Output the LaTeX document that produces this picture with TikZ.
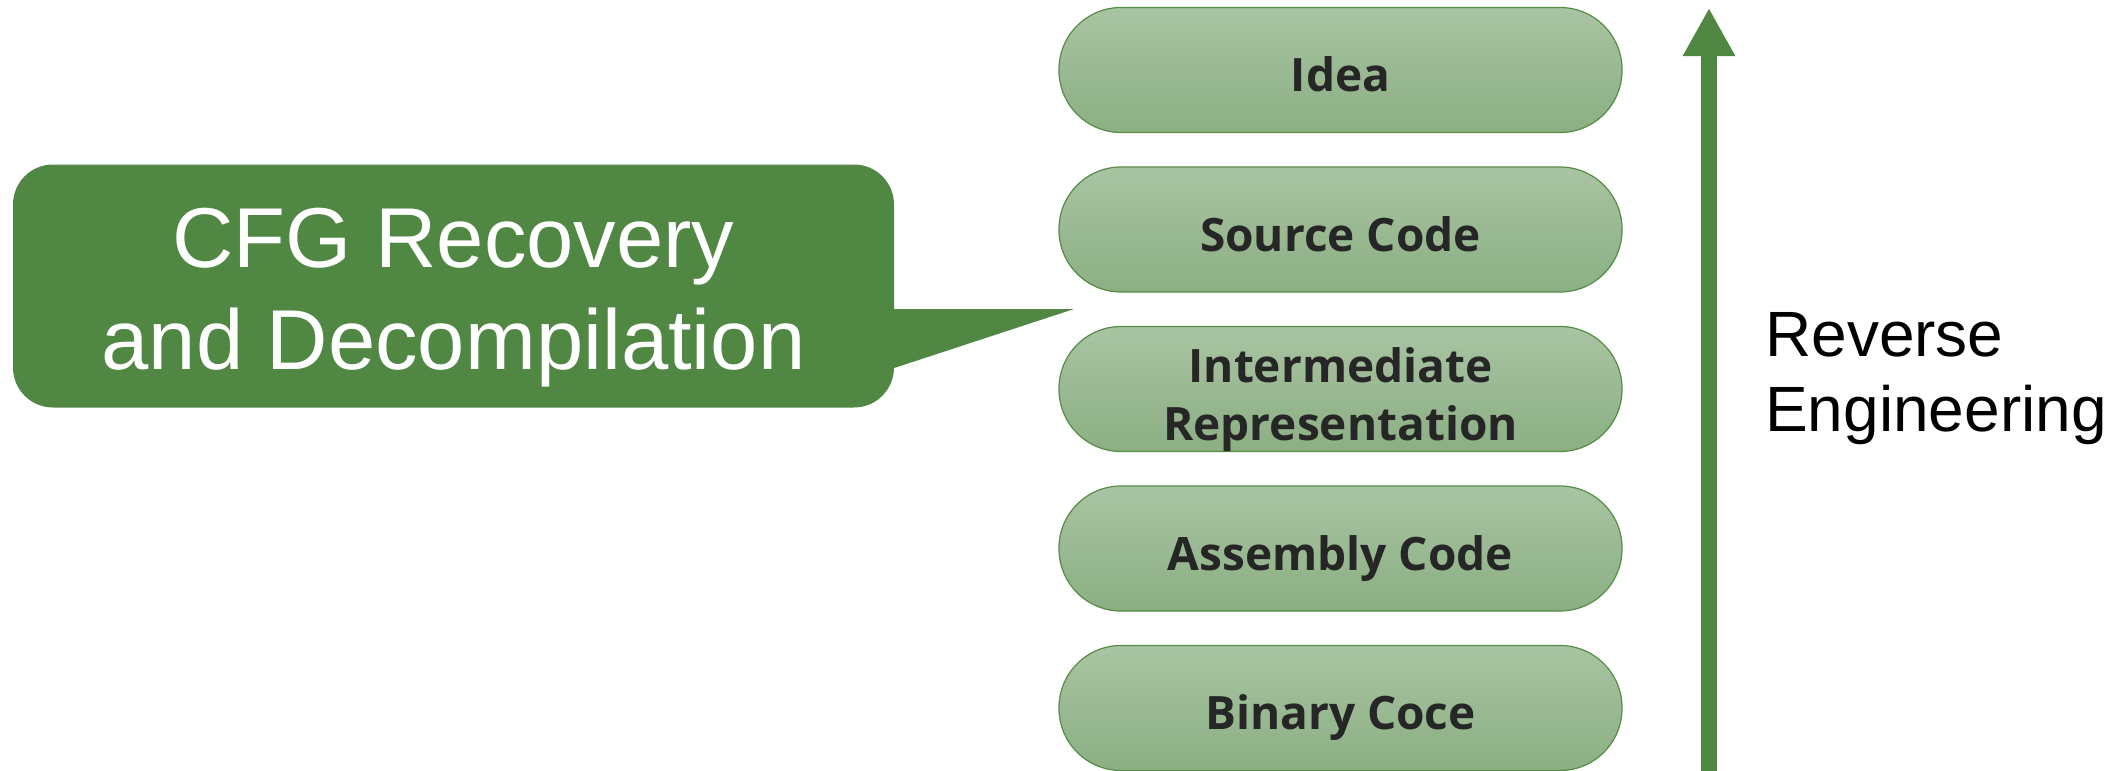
\documentclass[tikz,border=0pt]{standalone}
\usepackage{fontspec}
\setmainfont{Liberation Sans}
\newfontfamily\pillfont{Open Sans}
\usetikzlibrary{arrows.meta}

\definecolor{calloutgreen}{RGB}{80,135,67}
\definecolor{pilltop}{RGB}{169,196,162}
\definecolor{pillbot}{RGB}{139,175,131}
\definecolor{pillborder}{RGB}{85,140,70}
\definecolor{pilltext}{RGB}{38,38,38}

\tikzset{
  stage/.style={draw=pillborder, line width=1.2pt, top color=pilltop, bottom color=pillbot,
    rounded corners=62pt, minimum width=563pt, minimum height=125pt, inner sep=0pt,
    font=\pillfont\bfseries\fontsize{46}{58}\selectfont, text=pilltext, align=center},
  oneline/.style={text height=46pt, text depth=3pt},
  twoline/.style={text height=104pt, text depth=1pt},
  callout/.style={fill=calloutgreen, rounded corners=40pt, minimum width=881pt,
    minimum height=243pt, inner sep=0pt, text=white, align=center,
    text height=166pt, text depth=0pt,
    font=\fontsize{85}{102}\selectfont},
  revarrow/.style={draw=calloutgreen, line width=16pt,
    -{Triangle[width=49pt,length=48pt]}},
}

\begin{document}
\begin{tikzpicture}[x=1pt,y=-1pt]
  \useasboundingbox (0,0) rectangle (2123,771);

  % stack of abstraction levels
  \node[stage, oneline] (idea) at (1340.5,70) {Idea};
  \node[stage, oneline] (src)  at (1340.5,229.5) {Source Code};
  \node[stage, twoline] (ir)   at (1340.5,389) {Intermediate\\Representation};
  \node[stage, oneline] (asm)  at (1340.5,548.5) {Assembly Code};
  \node[stage, oneline] (bin)  at (1340.5,708) {Binary Coce};

  % speech bubble
  \node[callout] (cfg) at (453.5,286) {CFG Recovery\\and Decompilation};
  \coordinate (tip) at (1074,309);
  \fill[calloutgreen] ([yshift=-23pt]cfg.east) -- (tip) -- ([yshift=-82pt]cfg.east) -- cycle;

  % direction arrow
  \coordinate (revstart) at (1709,775);
  \coordinate (revend) at (1709,8);
  \draw[revarrow] (revstart) -- (revend);
  \node[anchor=base west, inner sep=0pt, align=left, font=\fontsize{64}{75}\selectfont]
    (rev) at (1765,431) {Reverse\\Engineering};
\end{tikzpicture}
\end{document}
